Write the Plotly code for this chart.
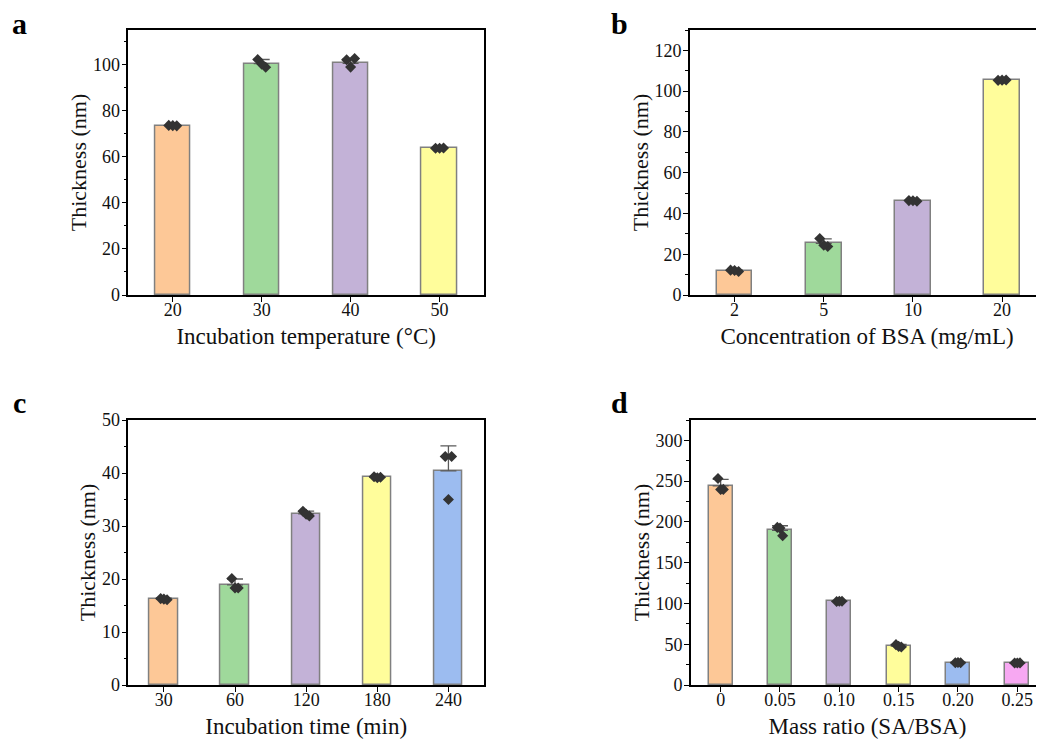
import plotly.graph_objects as go

# ---------------- data ----------------
a_labels = ["20", "30", "40", "50"]
a_means = [73.5, 100.4, 100.5, 63.8]
a_sd = [0.1, 1.8, 1.9, 0.1]
a_points = [[73.6, 73.4, 73.5], [102.2, 98.8, 100.2], [102.1, 102.6, 98.9], [63.7, 63.8, 63.7]]

b_labels = ["2", "5", "10", "20"]
b_means = [11.9, 25.3, 46.2, 105.4]
b_sd = [0.4, 2.2, 0.2, 0.1]
b_points = [[12.2, 11.5, 12.0], [27.7, 23.8, 24.4], [46.3, 46.0, 46.2], [105.3, 105.5, 105.4]]

c_labels = ["30", "60", "120", "180", "240"]
c_means = [16.2, 18.9, 32.3, 39.2, 40.4]
c_sd = [0.2, 1.1, 0.5, 0.1, 4.7]
c_points = [[16.3, 16.1, 16.2], [20.1, 18.3, 18.3], [32.8, 31.9, 32.2], [39.3, 39.2, 39.1], [43.1, 43.1, 35.0]]

d_labels = ["0", "0.05", "0.10", "0.15", "0.20", "0.25"]
d_means = [244.3, 189.6, 102.6, 47.8, 27.4, 27.0]
d_sd = [7.9, 5.7, 0.6, 2.0, 0.3, 0.3]
d_points = [[253.3, 239.9, 239.7], [193.3, 183.1, 192.4], [102.3, 102.8, 102.7],
            [49.5, 46.5, 47.4], [27.4, 27.3, 27.5], [27.0, 27.1, 26.9]]

palette = ["#FDC897", "#9FD99B", "#C3B2D7", "#FFFD9B", "#9CBCF0", "#F7A8F2"]
jitter = [-0.045, 0.045, 0.0]

# the page body has an 8px default margin, so the figure is placed at (8, 8)
OFF = 8
W, H = 1044 - OFF, 742 - OFF
FONT = "Liberation Serif, Times New Roman, serif"

fig = go.Figure()

panels = [
    (a_labels, a_means, a_sd, a_points, "Incubation temperature (°C)", [0, 115], 20, 10, (128.3, 484, 30, 295), 0.5, True),
    (b_labels, b_means, b_sd, b_points, "Concentration of BSA (mg/mL)", [0, 130], 20, 10, (690, 1044, 30, 295), 0.47, False),
    (c_labels, c_means, c_sd, c_points, "Incubation time (min)", [0, 50], 10, 5, (128.3, 484, 420, 685), 0.5, True),
    (d_labels, d_means, d_sd, d_points, "Mass ratio (SA/BSA)", [0, 325], 50, 25, (691, 1044, 420, 685), 0.45, False),
]

for i, (labels, means, sd, pts, xtitle, yr, dt, mdt, dom, rpad, mir) in enumerate(panels):
    n = i + 1
    xa = "x" if n == 1 else f"x{n}"
    ya = "y" if n == 1 else f"y{n}"
    idx = list(range(len(labels)))
    fig.add_trace(go.Bar(
        x=idx, y=means, width=0.4, xaxis=xa, yaxis=ya,
        marker=dict(color=palette[:len(labels)], line=dict(color="#808080", width=1.5)),
        error_y=dict(type="data", array=sd, arrayminus=[0] * len(sd), symmetric=False,
                     color="#5a5a5a", thickness=1.3, width=8),
        showlegend=False,
    ))
    px_, py_ = [], []
    for k, p in enumerate(pts):
        for j, v in enumerate(p):
            px_.append(k + jitter[j])
            py_.append(v)
    fig.add_trace(go.Scatter(
        x=px_, y=py_, mode="markers", xaxis=xa, yaxis=ya,
        marker=dict(symbol="diamond", size=8.5, color="#333333"),
        showlegend=False,
    ))
    l, r, t, b = [v - OFF for v in dom]
    xkey = "xaxis" if n == 1 else f"xaxis{n}"
    ykey = "yaxis" if n == 1 else f"yaxis{n}"
    fig.layout[xkey] = dict(
        domain=[l / W, min(r / W, 1.0)], anchor=ya, range=[-0.5, len(labels) - 1 + rpad],
        tickvals=idx, ticktext=labels, ticks="outside", ticklen=5, tickwidth=1.3,
        tickcolor="black", showline=True, linecolor="black", linewidth=1.6,
        mirror=True, showgrid=False, zeroline=False, automargin=False,
        ticklabelstandoff=-7,
        tickfont=dict(family=FONT, size=18, color="#111"),
        title=dict(text=xtitle, font=dict(family=FONT, size=23, color="#111"), standoff=8),
    )
    fig.layout[ykey] = dict(
        domain=[1 - b / H, 1 - t / H], anchor=xa, range=yr, dtick=dt, tick0=0,
        ticks="outside", ticklen=5, tickwidth=1.3, tickcolor="black",
        minor=dict(dtick=mdt, tick0=0, ticks="outside", ticklen=3, tickcolor="black", tickwidth=1.2),
        showline=True, linecolor="black", linewidth=1.6, mirror=mir,
        showgrid=False, zeroline=False, automargin=False,
        ticklabelstandoff=-2,
        tickfont=dict(family=FONT, size=18, color="#111"),
        title=dict(text="Thickness (nm)", font=dict(family=FONT, size=22, color="#111"), standoff=0),
    )

letters = [("a", 19, 24), ("b", 619, 24), ("c", 19, 402), ("d", 619, 402)]
for txt, x, y in letters:
    fig.add_annotation(text=f"<b>{txt}</b>", x=(x - OFF) / W, y=1 - (y - OFF) / H,
                       xref="paper", yref="paper", showarrow=False,
                       font=dict(family=FONT, size=30, color="black"),
                       xanchor="center", yanchor="middle")

fig.update_layout(
    width=W, height=H, margin=dict(l=0, r=0, t=0, b=0),
    paper_bgcolor="white", plot_bgcolor="white", bargap=0,
)

fig.write_html("out.html")
